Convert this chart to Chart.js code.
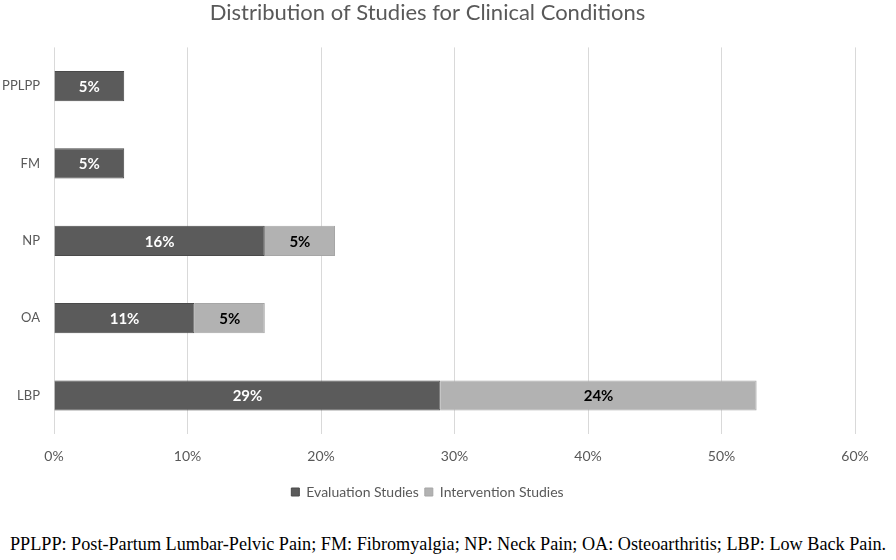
<!DOCTYPE html>
<html>
<head>
<meta charset="utf-8">
<script src="https://cdn.jsdelivr.net/npm/chart.js@4"></script>
<style>
  html, body { margin: 0; padding: 0; background: #fff; }
  #wrap { position: relative; width: 896px; height: 515px; }
  #note {
    position: absolute; left: 0; top: 534px; width: 896px; text-align: center;
    font-family: "Liberation Serif", serif; font-size: 18.2px; color: #000; white-space: nowrap;
  }
</style>
</head>
<body>
<div id="wrap"><canvas id="chart" width="896" height="515"></canvas></div>
<div id="note">PPLPP: Post-Partum Lumbar-Pelvic Pain; FM: Fibromyalgia; NP: Neck Pain; OA: Osteoarthritis; LBP: Low Back Pain.</div>
<script>
const conditions = ['PPLPP', 'FM', 'NP', 'OA', 'LBP'];
const evaluationStudies = [5.26, 5.26, 15.79, 10.53, 28.95];
const interventionStudies = [null, null, 5.26, 5.26, 23.68];
const xTicks = [0, 10, 20, 30, 40, 50, 60];

const fontFamily = 'Lato, "Open Sans", sans-serif';

// draws the percentage inside each bar
const barLabels = {
    id: 'barLabels',
    afterDatasetsDraw(chart) {
        const ctx = chart.ctx;
        ctx.save();
        ctx.font = 'bold 15px ' + fontFamily;
        ctx.textAlign = 'center';
        ctx.textBaseline = 'middle';
        chart.data.datasets.forEach((ds, i) => {
            chart.getDatasetMeta(i).data.forEach((bar, j) => {
                const v = ds.data[j];
                if (v == null) return;
                const p = bar.getProps(['x', 'y', 'base']);
                ctx.fillStyle = i === 0 ? '#ffffff' : '#000000';
                ctx.fillText(Math.round(v) + '%', (p.x + p.base) / 2, p.y + 1);
            });
        });
        ctx.restore();
    }
};

document.addEventListener('DOMContentLoaded', () => {
    const ctx = document.getElementById('chart').getContext('2d');
    new Chart(ctx, {
        type: 'bar',
        data: {
            labels: conditions,
            datasets: [{
                label: 'Evaluation Studies',
                data: evaluationStudies,
                backgroundColor: '#5b5b5b',
                borderColor: '#4a4a4a',
                borderWidth: 1,
                barPercentage: 0.39,
                categoryPercentage: 1
            }, {
                label: 'Intervention Studies',
                data: interventionStudies,
                backgroundColor: '#b2b2b2',
                borderColor: '#a6a6a6',
                borderWidth: 1,
                barPercentage: 0.39,
                categoryPercentage: 1
            }]
        },
        options: {
            indexAxis: 'y',
            responsive: false,
            animation: false,
            devicePixelRatio: 1,
            layout: { padding: { left: 0, right: 41, top: 0, bottom: 6 } },
            scales: {
                x: {
                    stacked: true,
                    min: xTicks[0],
                    max: xTicks[xTicks.length - 1],
                    afterBuildTicks: (scale) => { scale.ticks = xTicks.map(v => ({ value: v })); },
                    ticks: {
                        callback: (v) => v + '%',
                        color: '#595959',
                        font: { family: fontFamily, size: 14 },
                        padding: 14
                    },
                    grid: { color: '#d9d9d9', lineWidth: 1, drawTicks: false },
                    border: { display: false }
                },
                y: {
                    stacked: true,
                    afterFit: (scale) => { scale.width = 54; },
                    ticks: {
                        color: '#595959',
                        font: { family: fontFamily, size: 13 },
                        padding: 14
                    },
                    grid: { display: false, drawTicks: false },
                    border: { display: false }
                }
            },
            plugins: {
                title: {
                    display: true,
                    text: 'Distribution of Studies for Clinical Conditions',
                    color: '#595959',
                    font: { family: fontFamily, size: 22, weight: 'normal' },
                    padding: { top: 0, bottom: 21 }
                },
                legend: {
                    position: 'bottom',
                    labels: {
                        color: '#595959',
                        font: { family: fontFamily, size: 14 },
                        boxWidth: 8,
                        boxHeight: 8,
                        padding: 6
                    }
                },
                tooltip: { enabled: false }
            }
        },
        plugins: [barLabels]
    });
});
</script>
</body>
</html>
